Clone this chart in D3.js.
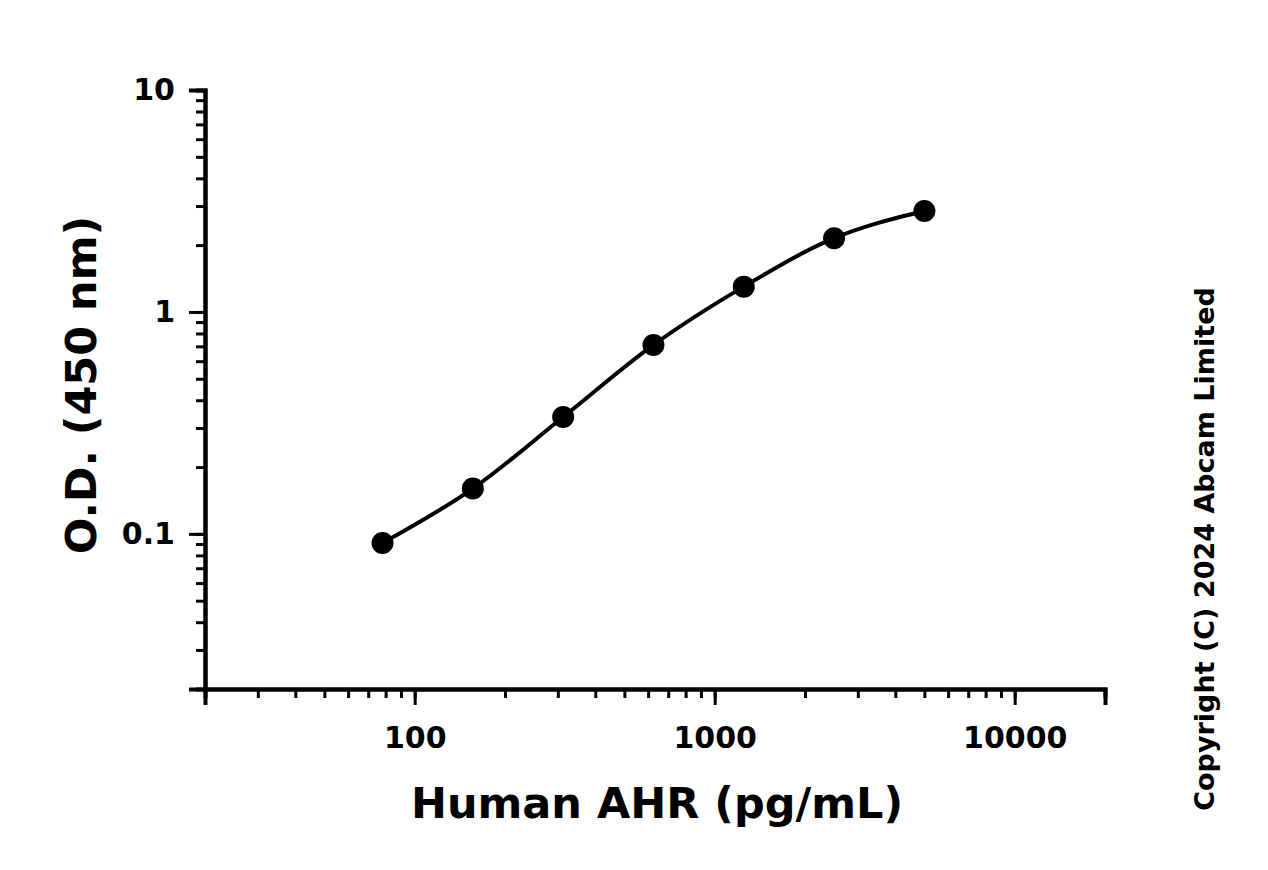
<!DOCTYPE html>
<html><head><meta charset="utf-8">
<script src="https://cdn.jsdelivr.net/npm/d3@7"></script>
<style>body{margin:0;background:#fff}svg{display:block}text{font-family:"DejaVu Sans",sans-serif;font-weight:700;fill:#000}</style>
</head><body><svg id="c" width="1268" height="870"></svg>
<script>
const concentrations=[78.125,156.25,312.5,625,1250,2500,5000];
const odValues=[0.091,0.16,0.336,0.71,1.30,2.15,2.85];
const xTickLabels=[100,1000,10000];
const yTickLabels=[0.1,1,10];

const svg=d3.select("#c");
const x=d3.scaleLog().domain([20,20000]).range([205,1105]);
const y=d3.scaleLog().domain([0.02,10]).range([689,90]);

const xMinor=[];for(let d=10;d<=10000;d*=10)for(let k=1;k<10;k++){const v=d*k;if(v>=20&&v<=20000)xMinor.push(v);}
const yMinor=[];for(let d=0.01;d<=10;d*=10)for(let k=1;k<10;k++){const v=+(d*k).toPrecision(3);if(v>=0.02&&v<=10)yMinor.push(v);}

const gx=svg.append("g").attr("transform","translate(0,689)");
gx.call(d3.axisBottom(x).tickValues(xMinor).tickSize(9).tickFormat(""));
gx.append("g").call(d3.axisBottom(x).tickValues(xTickLabels).tickSize(16).tickPadding(22).tickFormat(d3.format("d")));
const gy=svg.append("g").attr("transform","translate(205,0)");
gy.call(d3.axisLeft(y).tickValues(yMinor).tickSize(9).tickFormat(""));
gy.append("g").call(d3.axisLeft(y).tickValues(yTickLabels).tickSize(16).tickPadding(14).tickFormat(d=>String(d)));
svg.selectAll(".domain").attr("stroke","#000").attr("stroke-width",4);
svg.selectAll(".tick line").attr("stroke","#000").attr("stroke-width",3);
svg.selectAll(".tick text").style("font-size","30px").style("letter-spacing","0px").attr("fill","#000");

const line=d3.line().x((d,i)=>x(concentrations[i])).y(d=>y(d)).curve(d3.curveMonotoneX);
svg.append("path").attr("d",line(odValues)).attr("fill","none").attr("stroke","#000").attr("stroke-width",4);
svg.selectAll("circle.p").data(odValues).join("circle").attr("cx",(d,i)=>x(concentrations[i])).attr("cy",d=>y(d)).attr("r",11).attr("fill","#000");

svg.append("text").attr("x",657).attr("y",818).attr("text-anchor","middle").style("font-size","43px").text("Human AHR (pg/mL)");
svg.append("text").attr("transform","translate(96,385) rotate(-90)").attr("text-anchor","middle").style("font-size","43px").text("O.D. (450 nm)");
svg.append("text").attr("transform","translate(1214,549) rotate(-90)").attr("text-anchor","middle").style("font-size","27px").text("Copyright (C) 2024 Abcam Limited");
</script></body></html>
